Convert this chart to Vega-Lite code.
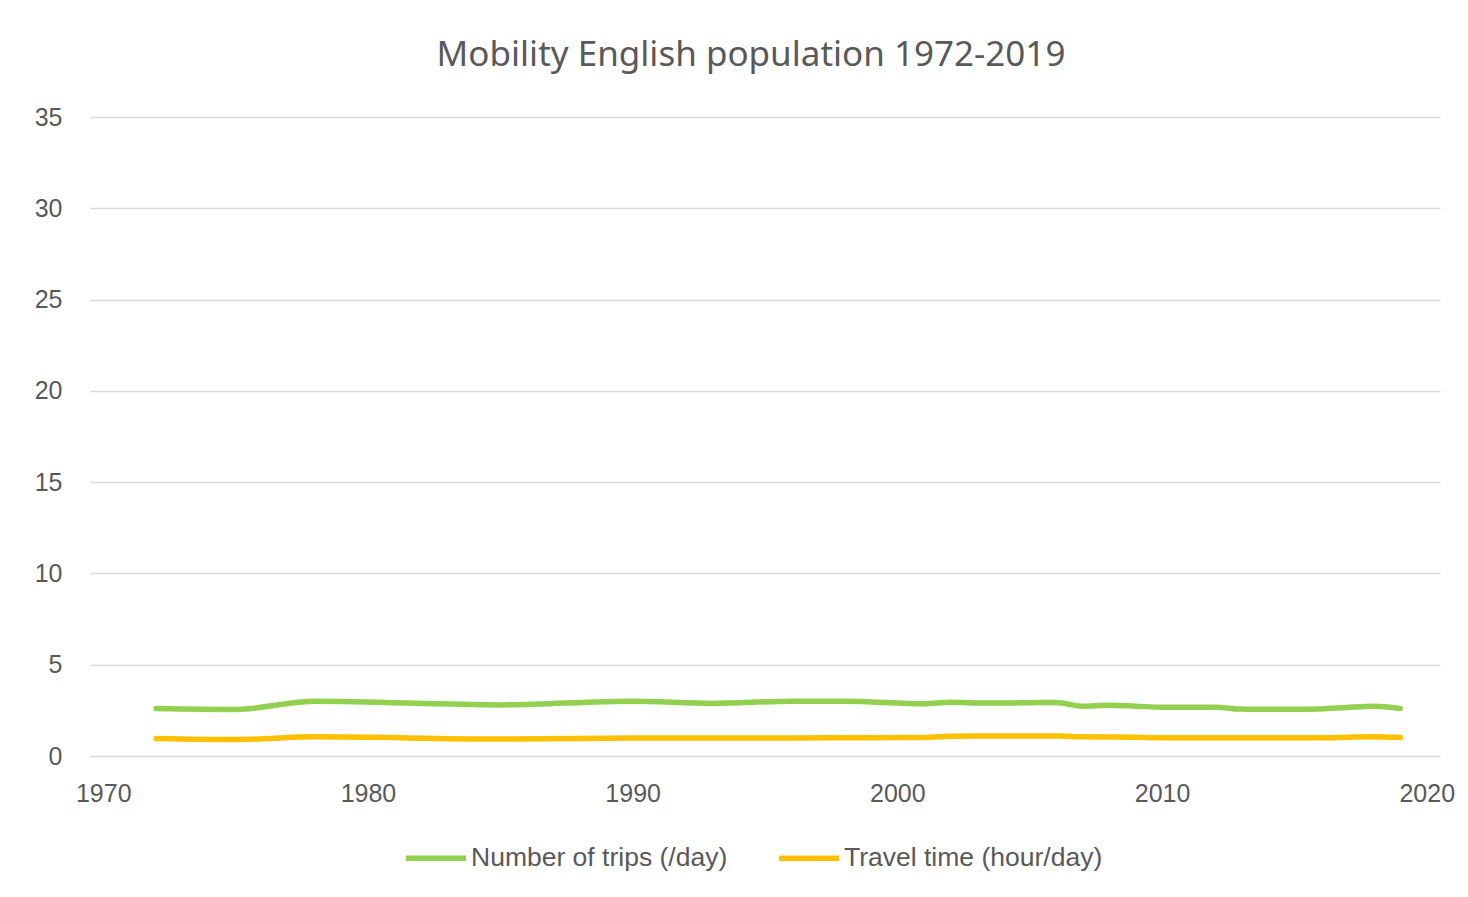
{
  "$schema": "https://vega.github.io/schema/vega-lite/v6.json",
  "autosize": "none",
  "width": 1350,
  "height": 639,
  "padding": {"left": 90, "top": 117, "right": 28, "bottom": 141},
  "background": "white",
  "title": {
    "text": "Mobility English population 1972-2019",
    "font": "Noto Sans",
    "fontSize": 35,
    "fontWeight": "normal",
    "color": "#595959",
    "baseline": "alphabetic",
    "offset": 4,
    "dx": -14
  },
  "data": {
    "values": [
      {"year": 1972, "series": "Number of trips (/day)", "value": 2.6},
      {"year": 1975, "series": "Number of trips (/day)", "value": 2.55},
      {"year": 1978, "series": "Number of trips (/day)", "value": 3.0},
      {"year": 1985, "series": "Number of trips (/day)", "value": 2.8},
      {"year": 1990, "series": "Number of trips (/day)", "value": 3.0},
      {"year": 1993, "series": "Number of trips (/day)", "value": 2.88},
      {"year": 1996, "series": "Number of trips (/day)", "value": 3.0},
      {"year": 1998, "series": "Number of trips (/day)", "value": 3.0},
      {"year": 2001, "series": "Number of trips (/day)", "value": 2.86},
      {"year": 2002, "series": "Number of trips (/day)", "value": 2.95},
      {"year": 2003, "series": "Number of trips (/day)", "value": 2.9},
      {"year": 2004, "series": "Number of trips (/day)", "value": 2.9},
      {"year": 2005, "series": "Number of trips (/day)", "value": 2.92},
      {"year": 2006, "series": "Number of trips (/day)", "value": 2.93},
      {"year": 2007, "series": "Number of trips (/day)", "value": 2.73},
      {"year": 2008, "series": "Number of trips (/day)", "value": 2.78},
      {"year": 2009, "series": "Number of trips (/day)", "value": 2.73},
      {"year": 2010, "series": "Number of trips (/day)", "value": 2.67},
      {"year": 2011, "series": "Number of trips (/day)", "value": 2.67},
      {"year": 2012, "series": "Number of trips (/day)", "value": 2.67},
      {"year": 2013, "series": "Number of trips (/day)", "value": 2.57},
      {"year": 2014, "series": "Number of trips (/day)", "value": 2.56},
      {"year": 2015, "series": "Number of trips (/day)", "value": 2.56},
      {"year": 2016, "series": "Number of trips (/day)", "value": 2.58},
      {"year": 2017, "series": "Number of trips (/day)", "value": 2.66},
      {"year": 2018, "series": "Number of trips (/day)", "value": 2.72},
      {"year": 2019, "series": "Number of trips (/day)", "value": 2.6},
      {"year": 1972, "series": "Travel time (hour/day)", "value": 0.96},
      {"year": 1975, "series": "Travel time (hour/day)", "value": 0.9},
      {"year": 1978, "series": "Travel time (hour/day)", "value": 1.05},
      {"year": 1985, "series": "Travel time (hour/day)", "value": 0.93},
      {"year": 1990, "series": "Travel time (hour/day)", "value": 0.98},
      {"year": 1993, "series": "Travel time (hour/day)", "value": 0.99},
      {"year": 1996, "series": "Travel time (hour/day)", "value": 0.99},
      {"year": 1998, "series": "Travel time (hour/day)", "value": 1.0},
      {"year": 2001, "series": "Travel time (hour/day)", "value": 1.02},
      {"year": 2002, "series": "Travel time (hour/day)", "value": 1.08},
      {"year": 2003, "series": "Travel time (hour/day)", "value": 1.1},
      {"year": 2004, "series": "Travel time (hour/day)", "value": 1.1},
      {"year": 2005, "series": "Travel time (hour/day)", "value": 1.1},
      {"year": 2006, "series": "Travel time (hour/day)", "value": 1.1},
      {"year": 2007, "series": "Travel time (hour/day)", "value": 1.05},
      {"year": 2008, "series": "Travel time (hour/day)", "value": 1.04},
      {"year": 2009, "series": "Travel time (hour/day)", "value": 1.03},
      {"year": 2010, "series": "Travel time (hour/day)", "value": 1.0},
      {"year": 2011, "series": "Travel time (hour/day)", "value": 1.0},
      {"year": 2012, "series": "Travel time (hour/day)", "value": 1.0},
      {"year": 2013, "series": "Travel time (hour/day)", "value": 1.0},
      {"year": 2014, "series": "Travel time (hour/day)", "value": 1.0},
      {"year": 2015, "series": "Travel time (hour/day)", "value": 1.0},
      {"year": 2016, "series": "Travel time (hour/day)", "value": 1.0},
      {"year": 2017, "series": "Travel time (hour/day)", "value": 1.03},
      {"year": 2018, "series": "Travel time (hour/day)", "value": 1.05},
      {"year": 2019, "series": "Travel time (hour/day)", "value": 1.02}
    ]
  },
  "mark": {"type": "line", "strokeWidth": 5.5, "strokeCap": "round", "strokeJoin": "round", "interpolate": "monotone"},
  "encoding": {
    "x": {
      "field": "year",
      "type": "quantitative",
      "scale": {"domain": [1969.5, 2020.5], "nice": false, "zero": false},
      "axis": {
        "title": null,
        "values": [1970, 1980, 1990, 2000, 2010, 2020],
        "format": "d",
        "grid": false,
        "domain": false,
        "ticks": false,
        "tickSize": 0,
        "labelPadding": 25,
        "labelFont": "Liberation Sans",
        "labelFontSize": 25,
        "labelColor": "#595959"
      }
    },
    "y": {
      "field": "value",
      "type": "quantitative",
      "scale": {"domain": [0, 35], "nice": false},
      "axis": {
        "title": null,
        "values": [0, 5, 10, 15, 20, 25, 30, 35],
        "grid": true,
        "gridColor": "#d9d9d9",
        "gridWidth": 1.5,
        "domain": false,
        "ticks": false,
        "tickSize": 0,
        "labelPadding": 28,
        "labelFont": "Liberation Sans",
        "labelFontSize": 25,
        "labelColor": "#595959"
      }
    },
    "color": {
      "field": "series",
      "type": "nominal",
      "scale": {
        "domain": ["Number of trips (/day)", "Travel time (hour/day)"],
        "range": ["#92D050", "#FFC000"]
      },
      "legend": {
        "title": null,
        "orient": "none",
        "direction": "horizontal",
        "legendX": 313,
        "legendY": 708,
        "symbolType": "stroke",
        "symbolStrokeWidth": 5.5,
        "symbolSize": 3600,
        "labelOffset": 2,
        "columnPadding": 40,
        "labelFont": "Liberation Sans",
        "labelFontSize": 26.5,
        "labelColor": "#595959",
        "labelLimit": 400
      }
    }
  },
  "config": {"view": {"stroke": null}}
}
